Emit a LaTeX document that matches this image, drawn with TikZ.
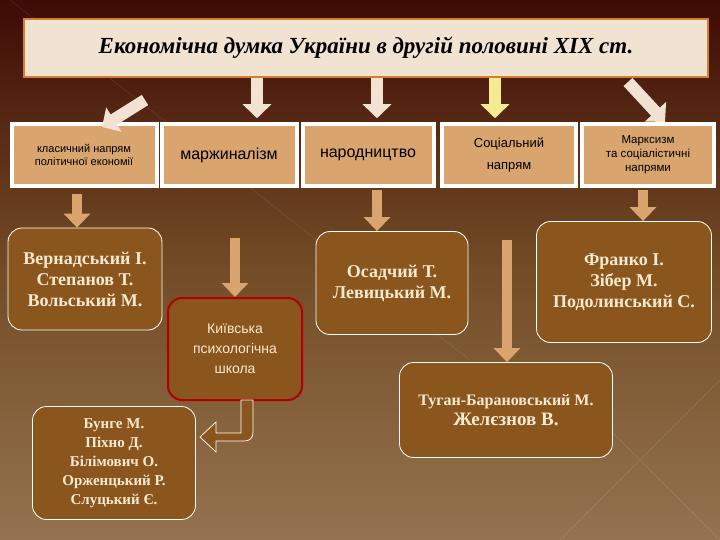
\documentclass[tikz,border=0pt]{standalone}
\usepackage{fontspec}
\setmainfont{Liberation Serif}
\newfontfamily\sansf{Liberation Sans}
\usetikzlibrary{arrows.meta}
\definecolor{cream}{HTML}{F2E2D2}
\definecolor{tan}{HTML}{D9A46E}
\definecolor{boxb}{HTML}{8A561E}
\definecolor{txt}{HTML}{F8EAD0}
\tikzset{
 top/.style={draw=white,line width=4pt,fill=tan,minimum height=62pt,align=center,font=\sansf,text=black,inner sep=1pt},
 rbox/.style={draw=white,line width=0.8pt,fill=boxb,rounded corners=14pt,align=center,font=\bfseries\fontsize{18}{21}\selectfont,text=txt},
 fat/.style={line width=12pt,draw=cream,-{Triangle[length=14pt,width=28pt]}},
 fat2/.style={line width=10pt,draw=tan,-{Triangle[length=14pt,width=26pt]}},
}
\begin{document}
\begin{tikzpicture}[x=1pt,y=-1pt]
\shade[top color=black!80!brown!70!red!60!black,bottom color=brown!60!gray!90!black,middle color=brown!60!black] (0,0) rectangle (720,540);
\useasboundingbox (0,0) rectangle (720,540);
\draw[white,opacity=0.12] (10,0)--(470,360) (560,540)--(720,380) (720,540)--(600,420);
\node[draw=brown!70!orange,line width=2.5pt,fill=cream,minimum width=684pt,minimum height=58pt,font=\bfseries\itshape\fontsize{23}{25}\selectfont] (title) at (366,48) {Економічна думка України в другій половині XIX ст.};
\node[top,minimum width=145pt,font=\sansf\fontsize{11}{13}\selectfont] (t1) at (84,155) {класичний напрям\\політичної економії};
\node[top,minimum width=135pt,font=\sansf\fontsize{16}{18}\selectfont] (t2) at (229,155) {маржиналізм};
\node[top,minimum width=131pt,font=\sansf\fontsize{16}{18}\selectfont] (t3) at (368,155) {народництво};
\node[top,minimum width=134pt,font=\sansf\fontsize{13}{22}\selectfont] (t4) at (509,155) {Соціальний\\напрям};
\node[top,minimum width=132pt,font=\sansf\fontsize{11.5}{14}\selectfont] (t5) at (648,155) {Марксизм\\та соціалістичні\\напрями};
\coordinate (a1) at (145,100); \coordinate (b1) at (102,127);
\draw[fat] (a1)--(b1);
\draw[fat] (title.south -| 257,0) -- ++(0,40);
\draw[fat] (title.south -| 377,0) -- ++(0,40);
\draw[fat,draw=cream!70!yellow] (title.south -| 495,0) -- ++(0,40);
\coordinate (a5) at (628,82); \coordinate (b5) at (665,122);
\draw[fat] (a5)--(b5);
\node[rbox,minimum width=154pt,minimum height=102pt] (v) at (85,279) {Вернадський І.\\Степанов Т.\\Вольський М.};
\node[rbox,minimum width=152pt,minimum height=103pt] (o) at (392,283) {Осадчий Т.\\Левицький М.};
\node[rbox,minimum width=175pt,minimum height=121pt] (f) at (624,282) {Франко І.\\Зібер М.\\Подолинський С.};
\node[rbox,draw=red!70!black,line width=2pt,minimum width=134pt,minimum height=102pt,font=\sansf\fontsize{14}{20}\selectfont] (k) at (235,349) {Київська\\психологічна\\школа};
\node[rbox,minimum width=213pt,minimum height=95pt,font=\bfseries\fontsize{16}{20}\selectfont] (tu) at (506,410) {Туган-Барановський М.\\\fontsize{19}{21}\selectfont Желєзнов В.};
\node[rbox,minimum width=163pt,minimum height=113pt,font=\bfseries\fontsize{15}{19}\selectfont] (bu) at (114,463) {Бунге М.\\Піхно Д.\\Білімович О.\\Орженцький Р.\\Слуцький Є.};
\coordinate (s1) at (77,194); \coordinate (s2) at (235,238); \coordinate (s3) at (377,190);
\coordinate (s4) at (507,240); \coordinate (s5) at (643,190);
\draw[fat2] (s1) -- (s1 |- v.north);
\draw[fat2] (s2) -- (s2 |- k.north);
\draw[fat2] (s3) -- (s3 |- o.north);
\draw[fat2] (s4) -- (s4 |- tu.north);
\draw[fat2] (s5) -- (s5 |- f.north);
\draw[white,fill=boxb,line width=0.7pt] (241,400) -- (253,400) -- (253,432) .. controls (253,438) and (250,441) .. (244,441) -- (216,441) -- (216,452) -- (200,437) -- (216,422) -- (216,433) -- (241,433) -- cycle;
\end{tikzpicture}
\end{document}
